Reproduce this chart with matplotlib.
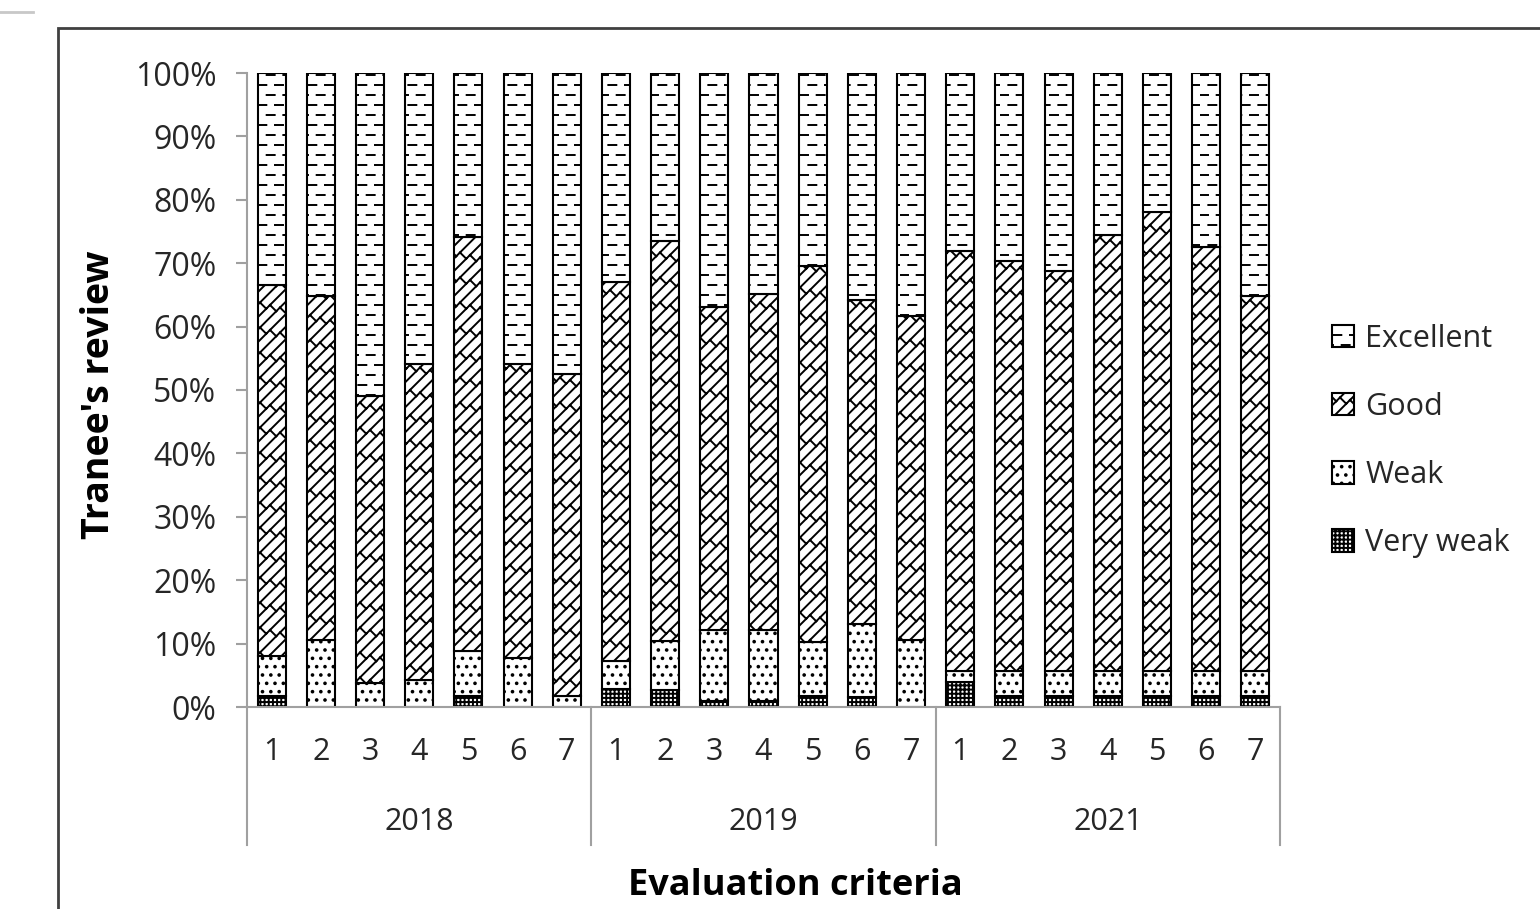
import matplotlib
matplotlib.use("Agg")
import matplotlib.pyplot as plt
import matplotlib.hatch as mhatch
from matplotlib.path import Path
import numpy as np
from matplotlib.patches import Rectangle
from matplotlib.lines import Line2D
from matplotlib.ticker import PercentFormatter

plt.rcParams['font.family'] = ['Open Sans', 'DejaVu Sans']
plt.rcParams['hatch.linewidth'] = 1.4

years = ["2018", "2019", "2021"]
criteria = ["1", "2", "3", "4", "5", "6", "7"]
series = ["Very weak", "Weak", "Good", "Excellent"]

very_weak = [1.7, 0, 0, 0, 1.7, 0, 0,
             2.8, 2.7, 0.9, 0.9, 1.7, 1.6, 0,
             4.0, 1.7, 1.7, 1.7, 1.7, 1.7, 1.7]
weak = [6.4, 10.5, 3.8, 4.3, 7.2, 7.7, 1.8,
        4.5, 7.7, 11.2, 11.2, 8.6, 11.5, 10.5,
        1.6, 4.0, 4.0, 4.0, 4.0, 4.0, 4.0]
good = [58.4, 54.4, 45.3, 49.8, 65.2, 46.4, 50.7,
        59.7, 63.1, 51.0, 53.0, 59.2, 51.1, 51.1,
        66.4, 64.7, 63.1, 68.7, 72.3, 66.9, 59.2]
excellent = [33.5, 35.1, 50.9, 45.9, 25.9, 45.9, 47.5,
             33.0, 26.5, 36.9, 34.9, 30.5, 35.8, 38.4,
             28.0, 29.6, 31.2, 25.6, 22.0, 27.4, 35.1]


# ---- custom hatch patterns imitating Excel fills ----
class DashOrVertical(mhatch.HatchPatternBase):
    """'|' alone -> staggered horizontal dashes; otherwise normal vertical lines."""
    R, C, L = 10, 6, 0.08

    def __init__(self, hatch, density):
        self.dash = ('|' in hatch)
        if self.dash:
            self.num_vertices = 2 * self.R * self.C
        else:
            self.inner = mhatch.VerticalHatch(hatch, density)
            self.num_vertices = self.inner.num_vertices

    def set_vertices_and_codes(self, vertices, codes):
        if not self.dash:
            return self.inner.set_vertices_and_codes(vertices, codes)
        i = 0
        for r in range(self.R):
            y = (r + 0.5) / self.R
            for j in range(self.C):
                x0 = j / self.C + (r % 2) * 0.5 / self.C
                vertices[i] = (x0, y)
                vertices[i + 1] = (x0 + self.L, y)
                codes[i] = Path.MOVETO
                codes[i + 1] = Path.LINETO
                i += 2


class BrickOrSouthEast(mhatch.HatchPatternBase):
    """'\\' -> diagonal brick pattern; otherwise normal SE lines."""
    N, M = 8, 5

    def __init__(self, hatch, density):
        self.brick = ('\\' in hatch)
        if self.brick:
            self.lines = [(k, ) for k in range(-self.N, self.N + 1)]
            self.segs = [(k, j) for k in range(-self.N - 1, self.N + 1)
                         for j in range(-1, self.M + 2)]
            self.num_vertices = 2 * (len(self.lines) + len(self.segs))
        else:
            self.inner = mhatch.SouthEastHatch(hatch, density)
            self.num_vertices = self.inner.num_vertices

    def set_vertices_and_codes(self, vertices, codes):
        if not self.brick:
            return self.inner.set_vertices_and_codes(vertices, codes)
        N, M = self.N, self.M
        i = 0
        for (k,) in self.lines:
            vertices[i] = (0.0, k / N)
            vertices[i + 1] = (1.0, 1.0 + k / N)
            codes[i] = Path.MOVETO
            codes[i + 1] = Path.LINETO
            i += 2
        for (k, j) in self.segs:
            a = j / M + (k % 2) * 0.5 / M
            vertices[i] = (a, a + (k + 1) / N)
            vertices[i + 1] = (a + 0.5 / N, a + (k + 1) / N - 0.5 / N)
            codes[i] = Path.MOVETO
            codes[i + 1] = Path.LINETO
            i += 2


mhatch._hatch_types = [
    DashOrVertical if t is mhatch.VerticalHatch else
    BrickOrSouthEast if t is mhatch.SouthEastHatch else t
    for t in mhatch._hatch_types
]

hatches = {"Very weak": "++++", "Weak": "..", "Good": "\\", "Excellent": "|"}
values = {"Very weak": very_weak, "Weak": weak, "Good": good, "Excellent": excellent}

W, H = 1540, 909
fig = plt.figure(figsize=(W / 100, H / 100), dpi=100)


def fx(px):
    return px / W


def fy(py):
    return 1 - py / H


ax = fig.add_axes([fx(247), fy(707), fx(1280) - fx(247), fy(73) - fy(707)])

n = len(years) * len(criteria)
x = np.arange(n)
tot = np.array(very_weak) + np.array(weak) + np.array(good) + np.array(excellent)
bottom = np.zeros(n)
handles = {}
for s in series:
    frac = np.array(values[s]) / tot
    b = ax.bar(x, frac, 0.57, bottom=bottom, color="white", edgecolor="black",
               hatch=hatches[s], linewidth=1.5, label=s)
    handles[s] = b
    bottom += frac

ax.set_xlim(-0.5, n - 0.5)
ax.set_ylim(0, 1)
ax.set_yticks(np.linspace(0, 1, 11))
ax.yaxis.set_major_formatter(PercentFormatter(1.0, decimals=0))
ax.tick_params(axis='y', labelsize=23, color='#a0a0a0', length=8, width=1.5,
               labelcolor='#262626', pad=14)
ax.set_xticks([])
for sp in ["top", "right"]:
    ax.spines[sp].set_visible(False)
for sp in ["left", "bottom"]:
    ax.spines[sp].set_color('#a0a0a0')
    ax.spines[sp].set_linewidth(1.5)


def ay(py):
    return (fy(py) - fy(707)) / (fy(73) - fy(707))


trans = ax.get_xaxis_transform()
for i in range(n):
    ax.text(x[i], ay(752), criteria[i % len(criteria)], transform=trans,
            ha='center', va='center', fontsize=22, color='#262626')
for g, yr in enumerate(years):
    c = g * len(criteria) + (len(criteria) - 1) / 2
    ax.text(c, ay(822), yr, transform=trans, ha='center', va='center',
            fontsize=22, color='#262626')
for g in range(len(years) + 1):
    xs = g * len(criteria) - 0.5
    ax.add_line(Line2D([xs, xs], [0, ay(845)], transform=trans,
                       color='#a0a0a0', lw=1.5, clip_on=False))

fig.text(fx(795), fy(886), "Evaluation criteria", ha='center', va='center',
         fontsize=26, fontweight='bold', color='black')
fig.text(fx(99), fy(395), "Tranee's review", ha='center', va='center',
         rotation=90, fontsize=27, fontweight='bold', color='black')

leg = fig.legend([handles[s] for s in series[::-1]], series[::-1],
                 loc='center left', bbox_to_anchor=(fx(1304), fy(441)),
                 frameon=False, fontsize=22, handlelength=0.75, handleheight=0.75,
                 labelspacing=1.25, handletextpad=0.35, labelcolor='#262626')

fig.add_artist(Rectangle((fx(58), fy(915)), fx(1600) - fx(58), fy(28) - fy(915),
                         transform=fig.transFigure, fill=False, edgecolor='#404040',
                         lw=2, clip_on=False))
fig.add_artist(Line2D([0, fx(33)], [fy(12), fy(12)], transform=fig.transFigure,
                      color='#c8c8c8', lw=2))

fig.savefig("out.png", dpi=100)
